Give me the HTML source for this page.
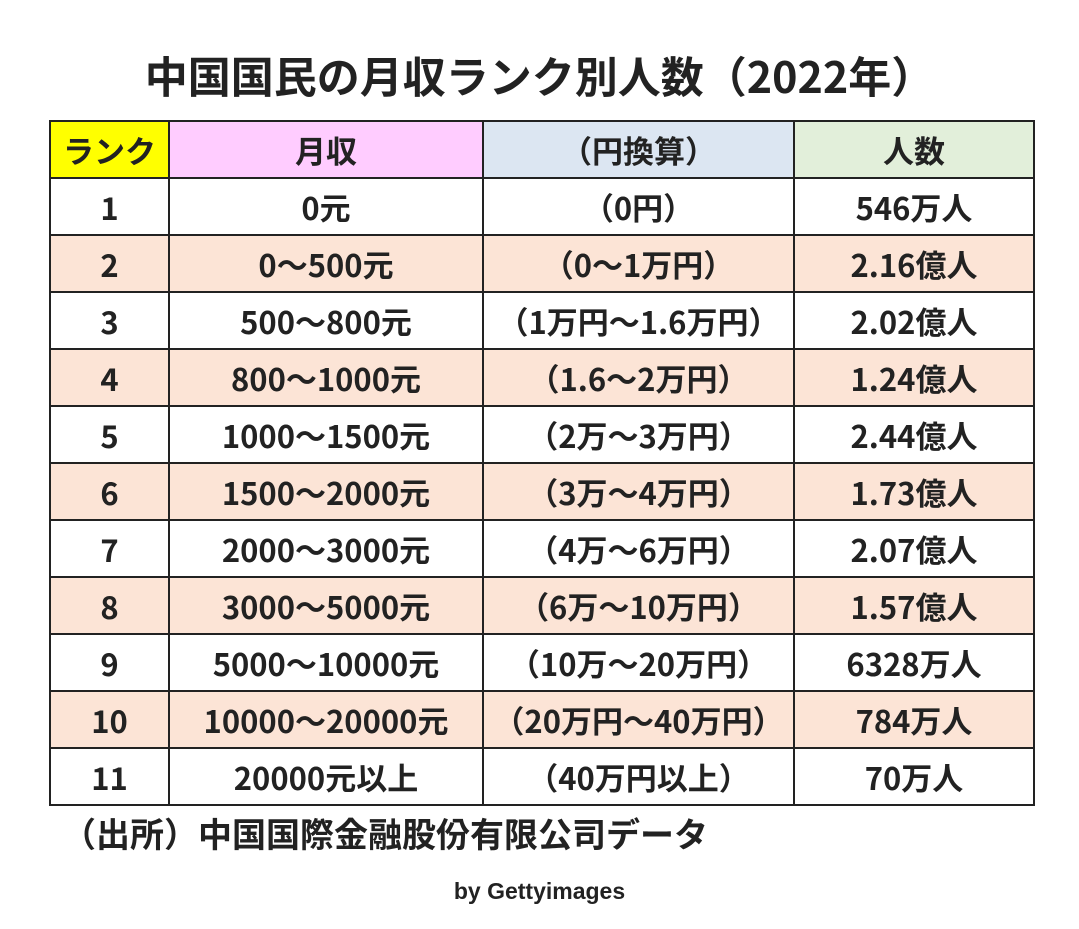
<!DOCTYPE html>
<html><head><meta charset="utf-8"><style>
body{margin:0;width:1079px;height:929px;background:#fff;font-family:"Liberation Sans","Noto Sans CJK JP",sans-serif;color:#222;position:relative;overflow:hidden}
.t{position:absolute;left:0;width:1079px;text-align:center;font-weight:bold}
table{position:absolute;left:49px;top:120px;border-collapse:collapse}
td{border:2px solid #222;text-align:center;vertical-align:middle;font-weight:bold;font-size:31px;height:55px;padding:0;line-height:1;font-family:"Noto Sans CJK JP","Liberation Sans",sans-serif;white-space:nowrap}
tr.p td{background:#fce4d6}
</style></head><body>
<div class="t" style="top:50px;font-size:43px;font-family:'Noto Sans CJK JP',sans-serif;line-height:1.2">中国国民の月収ランク別人数（2022年）</div>
<table>
<colgroup><col style="width:119px"><col style="width:314px"><col style="width:311px"><col style="width:240px"></colgroup>
<tr><td style="background:#ffff00">ランク</td><td style="background:#ffccff">月収</td><td style="background:#dce6f2">（円換算）</td><td style="background:#e2efda">人数</td></tr>
<tr><td>1</td><td>0元</td><td>（0円）</td><td>546万人</td></tr>
<tr class="p"><td>2</td><td>0～500元</td><td>（0～1万円）</td><td>2.16億人</td></tr>
<tr><td>3</td><td>500～800元</td><td>（1万円～1.6万円）</td><td>2.02億人</td></tr>
<tr class="p"><td>4</td><td>800～1000元</td><td>（1.6～2万円）</td><td>1.24億人</td></tr>
<tr><td>5</td><td>1000～1500元</td><td>（2万～3万円）</td><td>2.44億人</td></tr>
<tr class="p"><td>6</td><td>1500～2000元</td><td>（3万～4万円）</td><td>1.73億人</td></tr>
<tr><td>7</td><td>2000～3000元</td><td>（4万～6万円）</td><td>2.07億人</td></tr>
<tr class="p"><td>8</td><td>3000～5000元</td><td>（6万～10万円）</td><td>1.57億人</td></tr>
<tr><td>9</td><td>5000～10000元</td><td>（10万～20万円）</td><td>6328万人</td></tr>
<tr class="p"><td>10</td><td>10000～20000元</td><td>（20万円～40万円）</td><td>784万人</td></tr>
<tr><td>11</td><td>20000元以上</td><td>（40万円以上）</td><td>70万人</td></tr>
</table>
<div style="position:absolute;left:62px;top:813px;font-size:34px;font-weight:bold;font-family:'Noto Sans CJK JP',sans-serif;line-height:1.2">（出所）中国国際金融股份有限公司データ</div>
<div class="t" style="top:878px;font-size:23px;">by Gettyimages</div>
</body></html>
